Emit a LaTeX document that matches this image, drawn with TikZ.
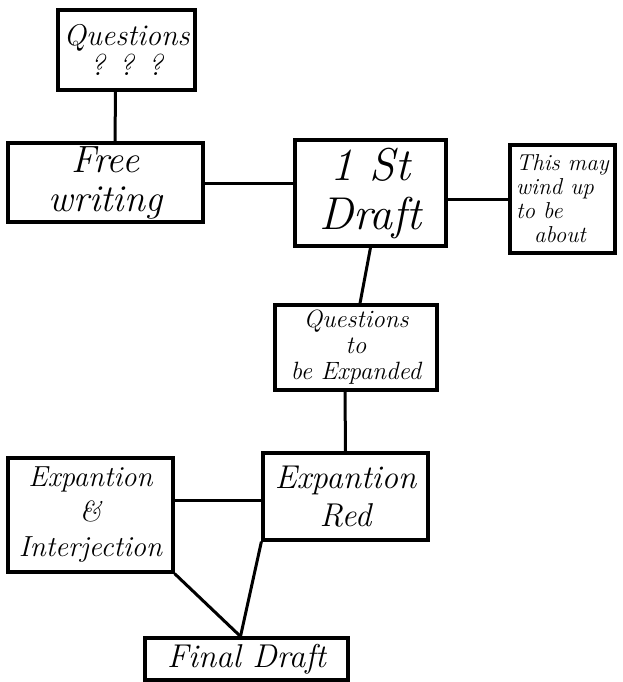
\documentclass[tikz,border=0pt]{standalone}
\usepackage{fontspec}
\begin{document}
\begin{tikzpicture}[x=1pt,y=-1pt,
  box/.style={draw,line width=3.2pt,inner sep=1pt,align=center,font=\itshape},
  link/.style={line width=3pt}]
\useasboundingbox (0,0) rectangle (623,682);
\node[box,minimum width=137pt,minimum height=80pt,font=\itshape\fontsize{30}{30}\selectfont] (q1) at (126.5,50) {Questions\\? ? ?};
\node[box,minimum width=195pt,minimum height=79pt,font=\itshape\fontsize{38}{39}\selectfont] (fw) at (105.5,182.5) {Free\\writing};
\node[box,minimum width=151pt,minimum height=106pt,font=\itshape\fontsize{46}{49}\selectfont] (d1) at (370.5,193) {1 St\\Draft};
\node[box,minimum width=105pt,minimum height=108pt,align=left,inner sep=3pt,font=\itshape\fontsize{23}{24}\selectfont] (wind) at (562.5,199) {This may\\wind up\\to be\\\hspace{18pt}about};
\node[box,minimum width=162pt,minimum height=85pt,font=\itshape\fontsize{25}{26}\selectfont] (qe) at (356,347.5) {Questions\\to\\be Expanded};
\node[box,minimum width=165pt,minimum height=87pt,font=\itshape\fontsize{33}{38}\selectfont] (er) at (345.5,496.5) {Expantion\\Red};
\node[box,minimum width=165pt,minimum height=114pt,font=\itshape\fontsize{29}{35}\selectfont] (ei) at (90.5,515) {Expantion\\\&\\Interjection};
\node[box,minimum width=203pt,minimum height=42pt,font=\itshape\fontsize{33}{33}\selectfont] (fd) at (246.5,659) {Final Draft};
\draw[link] ([xshift=-11pt]q1.south) -- ([xshift=9.5pt]fw.north);
\draw[link] ([yshift=-0.5pt]fw.east) -- ([yshift=-0.5pt]fw.east -| d1.west);
\draw[link] (wind.west -| d1.east) -- (wind.west);
\draw[link] (d1.south) -- ([xshift=4pt]qe.north);
\draw[link] ([xshift=-11pt]qe.south) -- (er.north);
\draw[link] ([yshift=15pt]ei.east) -- ([yshift=15pt]ei.east -| er.west);
\coordinate (fdtop) at ([xshift=-6pt]fd.north);
\draw[link] (ei.south east) -- (fdtop);
\draw[link] (er.south west) -- (fdtop);
\end{tikzpicture}
\end{document}
